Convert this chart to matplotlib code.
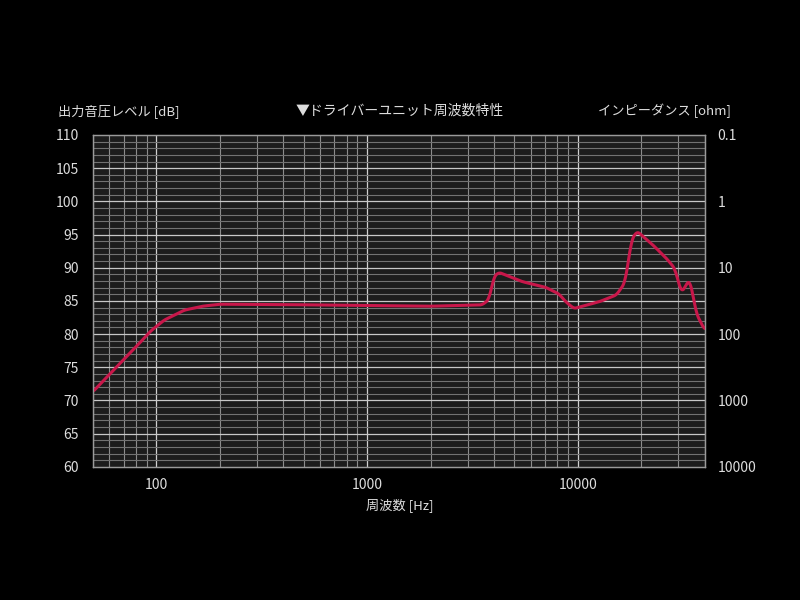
import matplotlib
matplotlib.use("Agg")
import numpy as np
from matplotlib import pyplot as plt
from matplotlib.ticker import FixedLocator, NullFormatter

plt.rcParams['font.family'] = ['Noto Sans CJK JP', 'DejaVu Sans']

# 周波数特性 (読み取り値)
freq = [50, 65.6, 78.7, 94.4, 109, 135.7, 165.5, 200, 400, 1000, 2000, 3515, 3785, 4000, 4224,
        5450, 7030, 8130, 8740, 9570, 12700, 15240, 16700, 17310, 17960, 19090, 22740,
        26310, 28820, 30990, 33930, 36470, 39500, 40000]
spl = [71.3, 75.2, 77.8, 80.5, 82.1, 83.6, 84.2, 84.5, 84.45, 84.3, 84.2, 84.4, 85.2, 88.7, 89.3,
       87.9, 87.05, 86.05, 84.9, 83.85, 84.9, 85.9, 87.7, 90.7, 94.2, 95.5, 93.4,
       91.4, 89.9, 86.2, 88.3, 83.1, 80.9, 80.7]

y_ticks = [60, 65, 70, 75, 80, 85, 90, 95, 100, 105, 110]
x_ticks = [100, 1000, 10000]
imp_ticks = [0.1, 1, 10, 100, 1000, 10000]

txt = '#dddddd'

fig = plt.figure(figsize=(8, 6), dpi=100, facecolor='black')
ax = fig.add_axes([0.116, 0.222, 0.765, 0.553])
ax.set_facecolor('#1c1c1c')

ax.set_xscale('log')
ax.set_xlim(50, 40000)
ax.set_ylim(60, 110)

# grid
minor_x = [m * 10 ** d for d in range(1, 5) for m in range(2, 10) if 50 <= m * 10 ** d <= 40000]
for f in minor_x:
    ax.axvline(f, color='#8c8c8c', lw=0.8, zorder=1)
for f in x_ticks:
    ax.axvline(f, color='#d0d0d0', lw=0.9, zorder=1)
for v in range(61, 110):
    if v % 5:
        ax.axhline(v, color='#727272', lw=0.8, zorder=1)
for v in y_ticks[1:-1]:
    ax.axhline(v, color='#c8c8c8', lw=0.9, zorder=1)

# 周波数補間曲線
fl = np.log10(freq)
xs = np.linspace(fl[0], fl[-1], 800)
ys = np.interp(xs, fl, spl)
k = 3
ys = np.convolve(np.pad(ys, k, mode='edge'), np.ones(2 * k + 1) / (2 * k + 1), mode='valid')
ax.plot(10 ** xs, ys, color='#c8174a', lw=2.2, zorder=3, solid_capstyle='round')

ax.xaxis.set_major_locator(FixedLocator(x_ticks))
ax.set_xticklabels([str(t) for t in x_ticks])
ax.xaxis.set_minor_formatter(NullFormatter())
ax.set_yticks(y_ticks)
ax.set_yticklabels([str(t) for t in y_ticks])
ax.tick_params(which='both', length=0, colors=txt, labelsize=10)
ax.tick_params(axis='x', pad=8)
ax.tick_params(axis='y', pad=10)
for s in ax.spines.values():
    s.set_color('#9a9a9a')
    s.set_linewidth(0.9)

ax2 = ax.twinx()
ax2.set_yscale('log')
ax2.set_ylim(10000, 0.1)
ax2.yaxis.set_major_locator(FixedLocator(imp_ticks))
ax2.set_yticklabels([str(t) for t in imp_ticks])
ax2.yaxis.set_minor_locator(FixedLocator([]))
ax2.tick_params(which='both', length=0, colors=txt, labelsize=10, pad=9)
for s in ax2.spines.values():
    s.set_color('#9a9a9a')
    s.set_linewidth(0.9)

fig.text(0.5, 0.815, '▼ドライバーユニット周波数特性', color=txt, fontsize=10, ha='center', va='center')
fig.text(0.0725, 0.815, '出力音圧レベル [dB]', color=txt, fontsize=9.5, ha='left', va='center')
fig.text(0.913, 0.815, 'インピーダンス [ohm]', color=txt, fontsize=9.5, ha='right', va='center')
fig.text(0.5, 0.158, '周波数 [Hz]', color=txt, fontsize=9.5, ha='center', va='center')

fig.savefig('out.png', dpi=100, facecolor='black')
